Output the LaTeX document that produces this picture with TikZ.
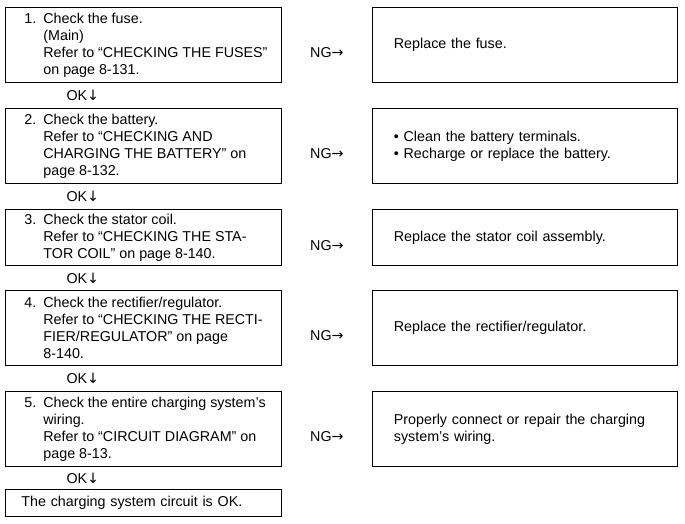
\documentclass[tikz,border=0pt]{standalone}
\usepackage{fontspec}
\usetikzlibrary{calc}
\setmainfont{Liberation Sans}
\newfontfamily\arr{DejaVu Sans}
\begin{document}
\begin{tikzpicture}[x=1pt,y=-1pt,
  box/.style={draw,line width=0.8pt,anchor=north west,inner sep=0pt,align=left,font=\fontsize{14.3}{17}\selectfont},
  lbl/.style={font=\fontsize{14.3}{17}\selectfont}]
\useasboundingbox (0,0) rectangle (685,523);
\newcommand{\lb}[3]{\node[box,minimum width=276pt,minimum height=#2pt] (#1) at (5,#3)}
\newcommand{\rb}[3]{\node[box,minimum width=305pt,minimum height=#2pt,text width=290pt] (#1) at (372,#3)}
\newcommand{\itm}[2]{\hspace{17pt}\makebox[19pt][l]{#1}\parbox[t]{236pt}{\raggedright #2}\vphantom{\parbox[c]{1pt}{\vrule height 0pt}}}
\lb{a}{75}{7} {\itm{1.}{Check the fuse.\\(Main)\\Refer to “CHECKING THE FUSES”\\on page 8-131.}};
\lb{b}{75}{108} {\itm{2.}{Check the battery.\\Refer to “CHECKING AND\\CHARGING THE BATTERY” on\\page 8-132.}};
\lb{c}{56}{209} {\itm{3.}{Check the stator coil.\\Refer to “CHECKING THE STA-\\TOR COIL” on page 8-140.}};
\lb{d}{75}{290} {\itm{4.}{Check the rectifier/regulator.\\Refer to “CHECKING THE RECTI-\\FIER/REGULATOR” on page\\8-140.}};
\lb{e}{75}{391} {\itm{5.}{Check the entire charging system’s\\wiring.\\Refer to “CIRCUIT DIAGRAM” on\\page 8-13.}};
\node[box,minimum width=276pt,minimum height=27pt,text width=268pt] (f) at (5,489) {\hspace{12pt}The charging system circuit is OK.};
\rb{ra}{75}{7} {\hspace{14pt}Replace the fuse.};
\rb{rb}{75}{108} {\hspace{14pt}• Clean the battery terminals.\\\hspace{14pt}• Recharge or replace the battery.};
\rb{rc}{56}{209} {\hspace{14pt}Replace the stator coil assembly.};
\rb{rd}{75}{290} {\hspace{14pt}Replace the rectifier/regulator.};
\rb{re}{75}{391} {\hspace{14pt}Properly connect or repair the charging\\\hspace{14pt}system’s wiring.};
\foreach \l/\r in {a/ra,b/rb,c/rc,d/rd,e/re}{
  \node[lbl] at ([yshift=-8pt]$(\l.east)!0.5!(\r.west)$) {NG{\arr →}};
}
\foreach \u/\v in {a/b,b/c,c/d,d/e,e/f}{
  \node[lbl,anchor=west] at ([xshift=58pt]$(\u.south west)!0.5!(\v.north west)$) {OK{\arr ↓}};
}
\end{tikzpicture}
\end{document}
